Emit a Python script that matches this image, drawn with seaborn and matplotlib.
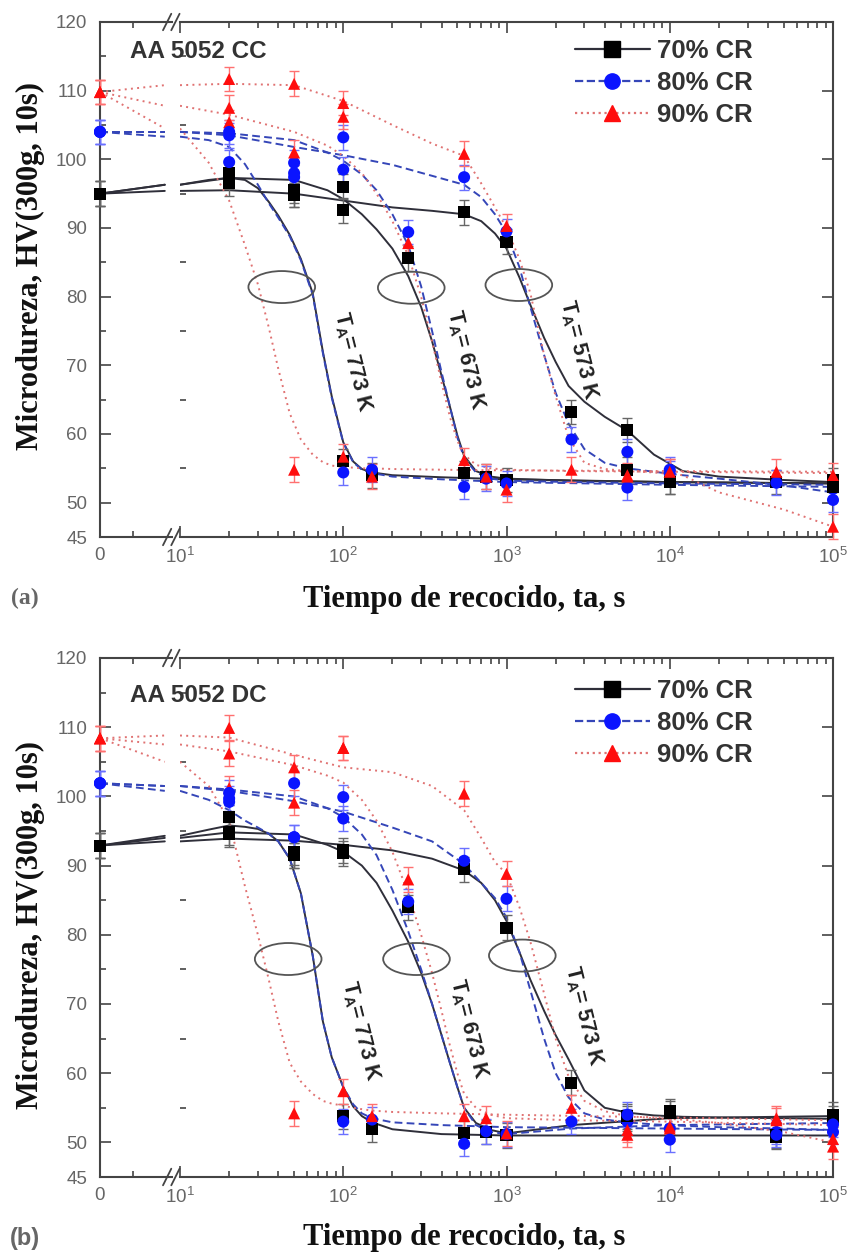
import matplotlib
matplotlib.use("Agg")
import numpy as np
import pandas as pd
import matplotlib.pyplot as plt
import seaborn as sns
from matplotlib.lines import Line2D
from matplotlib.path import Path
from matplotlib.ticker import LogLocator, NullFormatter, FixedLocator

# ---------------------------------------------------------------- data
CR_LABELS = ["70% CR", "80% CR", "90% CR"]
TEMP_LABELS = ["773", "673", "573"]

# measured points, panel (a)  (t = 0 is the as-rolled state)
A_T773 = [0, 20, 50, 100, 150]
A_P773_70 = [95.0, 97.5, 94.8, 56.0, 54.0]
A_P773_80 = [104.0, 103.5, 98.0, 54.4, 54.8]
A_P773_90 = [109.8, 105.4, 54.8, 56.7, 53.8]
A_T673 = [0, 20, 50, 100, 250, 550, 750, 1000, 5500, 10000, 100000]
A_P673_70 = [95.0, 98.0, 95.5, 96.0, 85.6, 54.3, 53.8, 53.3, 54.8, 53.0, 53.3]
A_P673_80 = [104.0, 104.0, 99.5, 103.2, 89.4, 52.3, 53.5, 52.8, 52.2, 54.2, 52.0]
A_P673_90 = [109.8, 107.5, 101.0, 106.2, 87.8, 56.2, 53.8, 51.9, 53.8, 54.5, 54.0]
A_T573 = [0, 20, 50, 100, 550, 1000, 2500, 5500, 10000, 45000, 100000]
A_P573_70 = [95.0, 96.5, 94.8, 92.6, 92.3, 88.0, 63.2, 60.6, 53.0, 53.0, 52.3]
A_P573_80 = [104.0, 99.6, 97.4, 98.5, 97.4, 89.5, 59.2, 57.4, 54.8, 52.9, 50.4]
A_P573_90 = [109.8, 111.7, 111.0, 108.2, 100.8, 90.3, 54.8, 54.0, 54.5, 54.5, 46.5]

# measured points, panel (b)
B_T773 = [0, 20, 50, 100, 150]
B_P773_70 = [92.9, 94.8, 91.9, 53.8, 51.9]
B_P773_80 = [101.9, 99.7, 94.1, 53.0, 53.3]
B_P773_90 = [108.4, 101.2, 54.2, 57.4, 53.8]
B_T673 = [0, 20, 50, 100, 250, 550, 750, 1000, 5500, 10000, 45000, 100000]
B_P673_70 = [92.9, 97.0, 91.5, 92.2, 84.0, 51.3, 51.5, 51.0, 53.5, 54.5, 50.8, 53.5]
B_P673_80 = [101.9, 99.2, 101.9, 99.9, 84.8, 49.8, 51.6, 51.2, 53.0, 52.0, 51.5, 51.5]
B_P673_90 = [108.4, 106.2, 99.1, 107.0, 88.0, 53.8, 53.5, 51.3, 51.8, 52.0, 53.2, 50.5]
B_T573 = [0, 20, 50, 100, 550, 1000, 2500, 5500, 10000, 45000, 100000]
B_P573_70 = [92.9, 94.5, 91.5, 91.8, 89.5, 81.0, 58.6, 53.8, 54.2, 51.0, 54.0]
B_P573_80 = [101.9, 100.5, 94.1, 96.8, 90.7, 85.2, 53.0, 54.0, 50.4, 51.1, 52.6]
B_P573_90 = [108.4, 109.9, 104.2, 107.0, 100.4, 88.8, 55.0, 51.1, 52.3, 53.5, 49.4]

HV_ERR = 1.8

# fitted curves (times in s)
G773 = [10, 15, 20, 25, 30, 35, 40, 47, 55, 65, 75, 85, 100, 115, 130, 150, 200, 400, 1000, 10000, 100000]
G673 = [10, 20, 50, 80, 100, 130, 160, 200, 250, 300, 350, 400, 450, 500, 550, 650, 800, 1000, 2500, 10000, 100000]
G573 = [10, 20, 50, 100, 200, 350, 550, 700, 850, 1000, 1200, 1400, 1700, 2000, 2400, 3000, 4000, 5500, 8000, 12000, 20000, 50000, 100000]

A_C773_70 = [96.3, 97.0, 97.3, 97.0, 95.8, 93.8, 91.8, 89.0, 85.5, 80.5, 72.0, 65.5, 58.8, 56.0, 54.9, 54.4, 54.0, 53.7, 53.4, 53.0, 52.8]
A_C773_80 = [103.3, 102.8, 101.8, 99.3, 96.3, 93.6, 91.5, 88.8, 85.3, 80.3, 71.8, 65.3, 58.7, 55.9, 54.8, 54.3, 53.8, 53.4, 53.0, 52.6, 52.3]
A_C773_90 = [104.5, 99.5, 94.0, 87.5, 81.8, 75.5, 69.5, 63.0, 59.2, 57.0, 55.9, 55.4, 55.2, 55.1, 55.0, 55.0, 54.9, 54.8, 54.7, 54.6, 54.5]
A_C673_70 = [96.3, 97.3, 97.0, 95.5, 94.2, 92.0, 89.8, 87.0, 83.0, 78.5, 73.5, 68.5, 64.0, 59.8, 56.8, 54.6, 53.8, 53.5, 53.2, 53.0, 52.8]
A_C673_80 = [104.0, 103.8, 102.8, 101.0, 99.8, 97.8, 95.5, 92.0, 87.5, 81.5, 75.0, 69.0, 64.0, 59.5, 56.5, 54.4, 53.5, 53.2, 53.0, 52.8, 52.6]
A_C673_90 = [107.8, 106.5, 104.0, 102.0, 100.5, 98.0, 95.0, 91.0, 86.0, 80.0, 73.5, 67.5, 62.5, 59.0, 57.0, 55.5, 55.0, 54.8, 54.6, 54.5, 54.3]
A_C573_70 = [95.4, 95.5, 95.0, 94.0, 93.0, 92.5, 92.0, 91.0, 89.2, 87.0, 82.8, 78.8, 74.0, 70.5, 67.0, 64.7, 62.5, 60.5, 57.0, 54.6, 53.8, 53.3, 53.0]
A_C573_80 = [104.0, 103.5, 101.8, 100.6, 99.2, 97.6, 96.3, 94.5, 92.0, 89.3, 84.3, 78.5, 71.5, 66.0, 61.5, 57.8, 55.8, 55.0, 54.5, 54.0, 53.5, 52.5, 51.5]
A_C573_90 = [110.8, 111.0, 110.8, 108.5, 105.0, 102.3, 100.5, 96.5, 93.0, 90.0, 85.5, 80.5, 71.5, 65.5, 59.5, 55.8, 54.9, 54.6, 54.4, 54.0, 51.5, 49.0, 46.5]

B_C773_70 = [94.3, 95.2, 95.8, 95.6, 95.3, 94.6, 93.5, 91.0, 86.0, 77.0, 67.5, 62.3, 58.0, 55.2, 53.8, 52.9, 51.9, 51.2, 51.0, 51.0, 51.0]
B_C773_80 = [100.8, 99.5, 98.0, 96.5, 95.5, 94.6, 93.5, 91.0, 86.0, 77.0, 67.5, 62.3, 58.0, 55.5, 54.2, 53.5, 52.9, 52.5, 52.2, 52.0, 51.8]
B_C773_90 = [105.0, 101.5, 96.5, 87.0, 80.0, 73.5, 67.5, 61.5, 58.8, 57.0, 56.0, 55.6, 55.3, 55.0, 54.8, 54.6, 54.4, 54.2, 54.0, 53.6, 53.2]
B_C673_70 = [94.0, 94.8, 94.5, 93.0, 92.0, 90.0, 87.5, 83.5, 79.0, 74.5, 70.0, 65.5, 61.5, 58.0, 55.0, 52.8, 51.8, 51.3, 52.5, 53.5, 53.8]
B_C673_80 = [101.5, 101.0, 100.0, 98.3, 97.0, 94.5, 91.5, 86.5, 80.5, 75.0, 70.0, 65.5, 61.5, 58.0, 55.0, 52.5, 51.5, 51.2, 52.0, 52.5, 52.8]
B_C673_90 = [107.5, 106.5, 104.5, 103.0, 102.0, 99.5, 96.5, 92.0, 86.0, 80.0, 74.5, 69.0, 64.0, 60.0, 57.0, 55.0, 54.0, 53.5, 53.2, 53.0, 52.5]
B_C573_70 = [93.5, 93.9, 93.6, 93.0, 92.2, 91.0, 89.3, 87.5, 85.0, 82.0, 77.5, 73.5, 69.0, 65.5, 62.0, 57.5, 55.0, 54.3, 53.9, 53.7, 53.6, 53.5, 53.4]
B_C573_80 = [101.5, 100.8, 99.3, 97.8, 95.5, 93.5, 90.2, 87.5, 85.3, 82.5, 77.5, 72.0, 65.0, 60.0, 56.5, 54.2, 53.3, 52.9, 52.6, 52.4, 52.2, 52.0, 51.8]
B_C573_90 = [108.8, 108.5, 106.0, 104.2, 103.5, 101.5, 98.0, 94.0, 90.5, 88.8, 84.0, 79.0, 71.5, 65.0, 59.5, 56.0, 54.5, 53.8, 53.5, 53.3, 52.8, 51.5, 50.0]

# annotation anchors (time, HV)
A_ELL_T = [42, 261, 1190]
A_ELL_V = [81.4, 81.3, 81.7]
B_ELL_T = [46, 281, 1250]
B_ELL_V = [76.5, 76.5, 77.0]
A_LBL_T = [113, 560, 2750]
A_LBL_V = [70.5, 70.8, 72.3]
B_LBL_T = [127, 585, 2960]
B_LBL_V = [66.1, 66.4, 68.3]

Y_TICKS = [45, 50, 60, 70, 80, 90, 100, 110, 120]
Y_MINOR = [55, 65, 75, 85, 95, 105, 115]

# ---------------------------------------------------------------- style
sns.set_style("ticks")
plt.rcParams["font.family"] = ["Liberation Sans", "DejaVu Sans"]
plt.rcParams["mathtext.fontset"] = "custom"
plt.rcParams["mathtext.rm"] = "Liberation Sans"
plt.rcParams["mathtext.bf"] = "Liberation Sans:bold"
plt.rcParams["mathtext.it"] = "Liberation Sans:italic"

LINE_COL = {"70% CR": "#2f2f3a", "80% CR": "#3546b8", "90% CR": "#e07272"}
MARK_COL = {"70% CR": "#000000", "80% CR": "#0a14ff", "90% CR": "#ff0d0d"}
ERR_COL = {"70% CR": "#666666", "80% CR": "#6a70ff", "90% CR": "#ff7070"}
MARKERS = {"70% CR": "s", "80% CR": "o", "90% CR": "^"}
DASHES = {"70% CR": "", "80% CR": (4, 2.2), "90% CR": (1, 2.2)}
SPINE = "#444444"
TICKLAB = "#666666"

W, H = 853, 1257
fig = plt.figure(figsize=(W / 100, H / 100), dpi=100)


def build_tables(prefix):
    g = globals()
    grids = {"773": G773, "673": G673, "573": G573}
    prow, crow, zrow = [], [], []
    for T in TEMP_LABELS:
        times = g[f"{prefix}_T{T}"]
        for cr in CR_LABELS:
            key = cr[:2]
            vals = g[f"{prefix}_P{T}_{key}"]
            for t, v in zip(times, vals):
                prow.append({"t": t, "hv": v, "cr": cr, "temp": T})
            cv = g[f"{prefix}_C{T}_{key}"]
            for t, v in zip(grids[T], cv):
                crow.append({"t": t, "hv": v, "cr": cr, "temp": T})
            # segment in the t = 0 block, ending at the axis break
            zrow.append({"x": 0.0, "hv": vals[0], "cr": cr, "temp": T})
            zrow.append({"x": 0.9, "hv": cv[0], "cr": cr, "temp": T})
    return pd.DataFrame(prow), pd.DataFrame(crow), pd.DataFrame(zrow)


ell_path = Path(Path.unit_circle().vertices * np.array([1.0, 0.48]), Path.unit_circle().codes)


def panel(top_px, bot_px, prefix, name, ell_t, ell_v, lbl_t, lbl_v, leg_off, name_off):
    b = 1 - bot_px / H
    h = (bot_px - top_px) / H
    ax0 = fig.add_axes([100 / W, b, 72 / W, h])
    ax1 = fig.add_axes([180 / W, b, (833 - 180) / W, h])
    pts, cur, zer = build_tables(prefix)

    for ax in (ax0, ax1):
        ax.set_facecolor("none")
        ax.set_ylim(45, 120)
        for s in ax.spines.values():
            s.set_color(SPINE)
            s.set_linewidth(1.5)
        ax.tick_params(which="both", direction="in", color=SPINE, width=1.2,
                       labelsize=13.5, labelcolor=TICKLAB, top=True)
        ax.tick_params(which="major", length=8)
        ax.tick_params(which="minor", length=4.5)

    # ---- zero block
    ax0.set_xlim(0, 1)
    ax0.spines["right"].set_visible(False)
    sns.lineplot(data=zer, x="x", y="hv", hue="cr", style="cr", units="temp",
                 estimator=None, sort=False, palette=LINE_COL, dashes=DASHES,
                 linewidth=1.4, legend=False, ax=ax0, zorder=2)
    z0 = pts[pts["t"] == 0]
    for cr in CR_LABELS:
        d = z0[z0["cr"] == cr]
        ax0.errorbar(d["t"], d["hv"], yerr=HV_ERR, fmt="none", ecolor=ERR_COL[cr],
                     elinewidth=1.0, capsize=3.5, capthick=1.0, zorder=3, clip_on=False)
    sns.scatterplot(data=z0, x="t", y="hv", hue="cr", style="cr", palette=MARK_COL,
                    markers=MARKERS, s=75, edgecolor="none", legend=False, ax=ax0,
                    zorder=4, clip_on=False)
    ax0.set_xlim(0, 1)
    ax0.set_ylim(45, 120)
    ax0.xaxis.set_major_locator(FixedLocator([0]))
    ax0.set_xticklabels(["0"])
    ax0.xaxis.set_minor_locator(FixedLocator([0.46]))
    ax0.yaxis.set_major_locator(FixedLocator(Y_TICKS))
    ax0.yaxis.set_minor_locator(FixedLocator(Y_MINOR))
    ax0.set_yticklabels([str(v) for v in Y_TICKS])
    ax0.tick_params(axis="y", right=False, pad=9)
    ax0.tick_params(axis="x", pad=7)
    ax0.set_xlabel("")
    ax0.set_ylabel("")

    # ---- log block
    sns.lineplot(data=cur, x="t", y="hv", hue="cr", style="cr", units="temp",
                 estimator=None, sort=False, palette=LINE_COL, dashes=DASHES,
                 linewidth=1.4, legend=False, ax=ax1, zorder=2)
    p1 = pts[pts["t"] > 0]
    for cr in CR_LABELS:
        d = p1[p1["cr"] == cr]
        ax1.errorbar(d["t"], d["hv"], yerr=HV_ERR, fmt="none", ecolor=ERR_COL[cr],
                     elinewidth=1.0, capsize=3.5, capthick=1.0, zorder=3, clip_on=False)
    sns.scatterplot(data=p1, x="t", y="hv", hue="cr", style="cr", palette=MARK_COL,
                    markers=MARKERS, s=75, edgecolor="none", legend=False, ax=ax1,
                    zorder=4, clip_on=False)
    ax1.set_xscale("log")
    ax1.set_xlim(10, 1e5)
    ax1.set_ylim(45, 120)
    ax1.spines["left"].set_visible(False)
    ax1.xaxis.set_major_locator(LogLocator(base=10, numticks=10))
    ax1.xaxis.set_minor_locator(LogLocator(base=10, subs=np.arange(2, 10), numticks=50))
    ax1.xaxis.set_minor_formatter(NullFormatter())
    ax1.yaxis.set_major_locator(FixedLocator(Y_TICKS[1:]))
    ax1.yaxis.set_minor_locator(FixedLocator(Y_MINOR))
    ax1.tick_params(axis="y", left=False, right=True, labelleft=False, labelright=False)
    ax1.tick_params(axis="x", pad=7)
    ax1.set_xlabel("")
    ax1.set_ylabel("")

    # ellipses grouping the curves of each annealing temperature
    ax1.scatter(ell_t, ell_v, marker=ell_path, s=48 ** 2, facecolors="none",
                edgecolors="#555555", linewidths=1.3, zorder=5)
    for T, t, v in zip(TEMP_LABELS, lbl_t, lbl_v):
        ax1.text(t, v, r"T$_{\mathbf{A}}$= " + T + " K", rotation=-76,
                 rotation_mode="anchor", ha="center", va="center",
                 fontsize=15.5, fontweight="bold", color="#222222", zorder=6)

    # axis-break marks
    for yb in (0, 1):
        for xs in ((0.875, 0.99), (0.99, 1.105)):
            ax0.plot(xs, (yb - 0.016, yb + 0.016), transform=ax0.transAxes,
                     color=SPINE, lw=1.3, clip_on=False, zorder=7)

    fig.text(130 / W, 1 - (top_px + name_off) / H, name, ha="left", va="center",
             fontsize=17.5, fontweight="bold", color="#333333", zorder=10)

    handles = [Line2D([], [], color=LINE_COL[c], marker=MARKERS[c], markersize=11,
                      markerfacecolor=MARK_COL[c], markeredgecolor=MARK_COL[c],
                      linestyle="-" if c == "70% CR" else ("--" if c == "80% CR" else ":"),
                      linewidth=1.6) for c in CR_LABELS]
    leg = ax1.legend(handles, CR_LABELS, loc="upper left",
                     bbox_to_anchor=((575 - 180) / 653, 1 - leg_off / (bot_px - top_px)),
                     frameon=False, fontsize=18.5, handlelength=2.9, handletextpad=0.3,
                     labelspacing=0.32, borderpad=0, borderaxespad=0)
    for txt in leg.get_texts():
        txt.set_fontweight("bold")
        txt.set_color("#333333")
    return ax0, ax1


panel(22, 537, "A", "AA 5052 CC", A_ELL_T, A_ELL_V, A_LBL_T, A_LBL_V, 17, 30)
panel(658, 1177, "B", "AA 5052 DC", B_ELL_T, B_ELL_V, B_LBL_T, B_LBL_V, 21, 37)

serif = ["Liberation Serif", "DejaVu Serif"]
fig.text(30 / W, 1 - 266 / H, "Microdureza, HV(300g, 10s)", rotation=90, ha="center",
         va="center", fontsize=22, fontweight="bold", family=serif, color="#111111")
fig.text(30 / W, 1 - 925 / H, "Microdureza, HV(300g, 10s)", rotation=90, ha="center",
         va="center", fontsize=22, fontweight="bold", family=serif, color="#111111")
fig.text(464 / W, 1 - 600 / H, "Tiempo de recocido, ta, s", ha="center", va="center",
         fontsize=22, fontweight="bold", family=serif, color="#111111")
fig.text(464 / W, 1 - 1238 / H, "Tiempo de recocido, ta, s", ha="center", va="center",
         fontsize=22, fontweight="bold", family=serif, color="#111111")
fig.text(25 / W, 1 - 598 / H, "(a)", ha="center", va="center", fontsize=17,
         fontweight="bold", family=serif, color="#666666")
fig.text(25 / W, 1 - 1238 / H, "(b)", ha="center", va="center", fontsize=17,
         fontweight="bold", color="#666666")

fig.savefig("out.png", dpi=100, facecolor="white")
